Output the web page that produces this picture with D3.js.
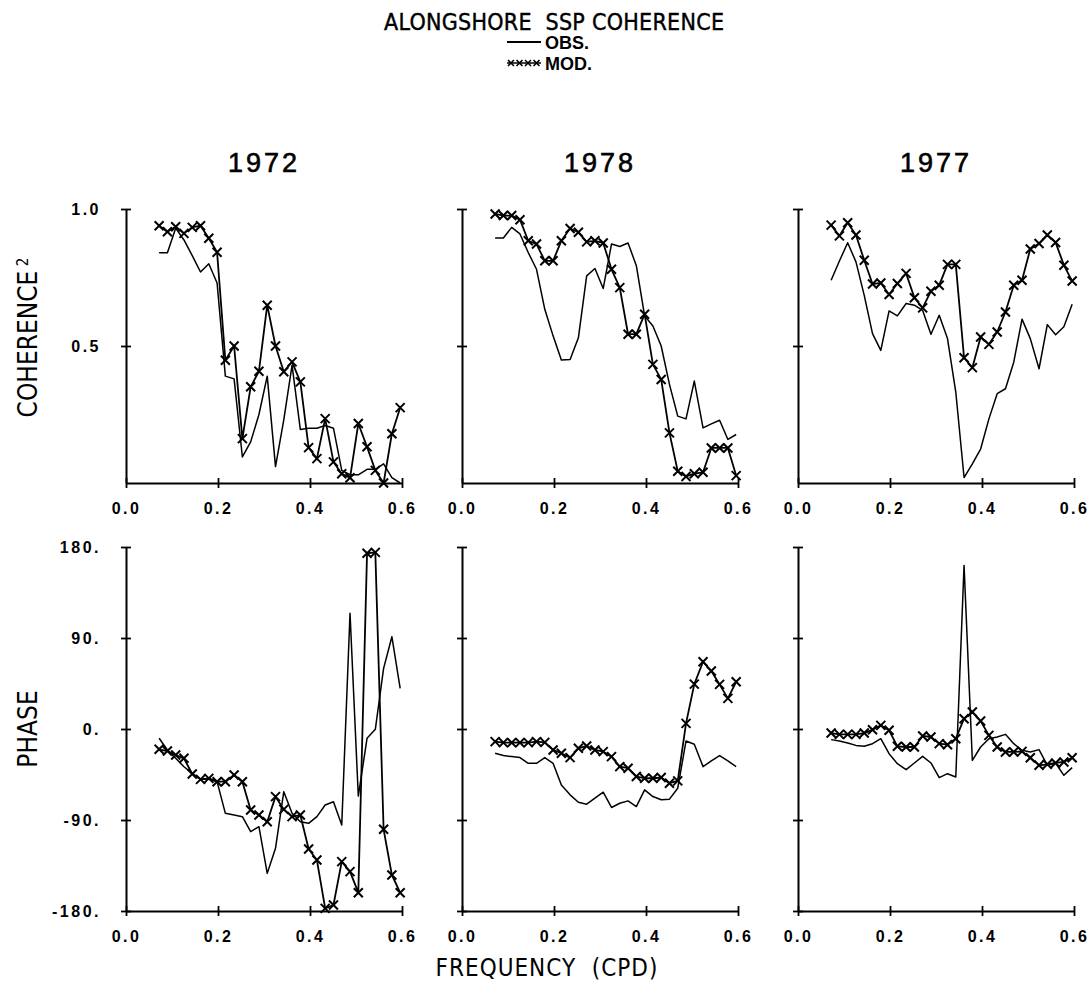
<!DOCTYPE html>
<html>
<head>
<meta charset="utf-8">
<script src="https://cdn.jsdelivr.net/npm/d3@7"></script>
<style>
  html, body { margin: 0; padding: 0; background: #fff; }
  svg { display: block; }
  .tick text { font-family: "Liberation Sans", Arial, sans-serif; font-weight: bold; font-size: 16px; letter-spacing: 2.5px; fill: #000; }
  .narrow { font-family: "Liberation Sans Narrow", "DejaVu Sans Condensed", "Liberation Sans", sans-serif; font-stretch: condensed; fill: #000; }
</style>
</head>
<body>
<svg id="chart" width="1092" height="1004"></svg>
<script>
// Frequencies (cycles per day) of the band-averaged estimates
const freq = [0.072, 0.090, 0.108, 0.126, 0.144, 0.162, 0.180, 0.198, 0.216, 0.235,
              0.253, 0.271, 0.289, 0.307, 0.325, 0.343, 0.361, 0.379, 0.397, 0.415,
              0.433, 0.451, 0.469, 0.487, 0.505, 0.524, 0.542, 0.560, 0.578, 0.596];

const years = ["1972", "1978", "1977"];

// Squared coherence, observed and modelled
const coh1972Obs = [0.84, 0.84, 0.93, 0.887, 0.83, 0.77, 0.80, 0.73, 0.39, 0.38,
                    0.095, 0.15, 0.25, 0.39, 0.06, 0.23, 0.43, 0.195, 0.20, 0.20,
                    0.21, 0.20, 0.046, 0.03, 0.03, 0.05, 0.05, 0.07, 0.02, 0.0];
const coh1972Mod = [0.939, 0.917, 0.935, 0.911, 0.933, 0.939, 0.893, 0.842, 0.448, 0.50,
                    0.162, 0.351, 0.408, 0.649, 0.50, 0.406, 0.442, 0.369, 0.129, 0.089,
                    0.235, 0.077, 0.034, 0.019, 0.217, 0.132, 0.046, 0.0, 0.18, 0.275];
const coh1978Obs = [0.894, 0.894, 0.933, 0.909, 0.841, 0.78, 0.634, 0.537, 0.449, 0.451,
                    0.53, 0.756, 0.783, 0.71, 0.872, 0.863, 0.876, 0.793, 0.61, 0.573,
                    0.50, 0.36, 0.244, 0.234, 0.372, 0.201, 0.216, 0.229, 0.159, 0.177];
const coh1978Mod = [0.982, 0.976, 0.976, 0.961, 0.884, 0.872, 0.811, 0.811, 0.884, 0.929,
                    0.915, 0.880, 0.884, 0.876, 0.78, 0.713, 0.543, 0.543, 0.616, 0.433,
                    0.378, 0.183, 0.043, 0.024, 0.034, 0.039, 0.128, 0.128, 0.128, 0.027];
const coh1977Obs = [0.74, 0.81, 0.877, 0.807, 0.685, 0.545, 0.484, 0.628, 0.61, 0.655,
                    0.649, 0.63, 0.543, 0.612, 0.527, 0.332, 0.02, 0.07, 0.124, 0.234,
                    0.326, 0.344, 0.441, 0.598, 0.527, 0.417, 0.578, 0.541, 0.57, 0.652];
const coh1977Mod = [0.941, 0.902, 0.95, 0.905, 0.813, 0.726, 0.73, 0.688, 0.728, 0.765,
                    0.676, 0.639, 0.70, 0.722, 0.798, 0.798, 0.457, 0.421, 0.533, 0.506,
                    0.551, 0.624, 0.722, 0.74, 0.854, 0.874, 0.905, 0.878, 0.795, 0.737];

// Phase (degrees), observed and modelled
const ph1972Obs = [-9.2, -20.8, -29, -37.3, -43.9, -49.5, -49.8, -52.1, -83.4, -85.1,
                   -86.7, -101.5, -96.6, -142.8, -118, -62, -83.4, -91.7, -93.3, -86.7,
                   -75.2, -71.9, -95, 114.4, -66.3, -9.2, -0.3, 60, 91.3, 40.2];
const ph1972Mod = [-20.1, -21.8, -25.7, -29.0, -44.5, -49.8, -48.8, -52.1, -52.1, -45.5,
                   -52.1, -80.1, -85.1, -91.7, -66.9, -79.5, -86.7, -85.1, -118.7, -129.6,
                   -177.4, -174.1, -131.2, -141.1, -161.9, 173.8, 174.7, -99.2, -144.4, -161.9];
const ph1978Obs = [-24, -26.3, -27.3, -28.3, -33.9, -33.9, -28.3, -33.9, -55.3, -65.1,
                   -72.4, -74.4, -68.4, -62.5, -77.6, -73.4, -71.1, -76.7, -60.2, -66.8,
                   -70, -69.4, -58.6, -11.8, -15.1, -37.2, -31.6, -26.3, -31.6, -37.2];
const ph1978Mod = [-12.5, -13.5, -13.5, -13.5, -13.5, -12.5, -13.2, -20.7, -24, -28.3,
                   -19.1, -16.8, -20.7, -22.4, -27.3, -37.2, -38.8, -47, -48.7, -48.7,
                   -48, -53.6, -51.3, 5.6, 44.4, 66.5, 57.3, 44.1, 30.3, 46.7];
const ph1977Obs = [-10.5, -11.9, -13.8, -16.2, -17.1, -14.5, -9.6, -24.4, -34.3, -40.2,
                   -33.6, -27, -33.6, -48.1, -44.2, -47.5, 161.8, -31, -17.8, -9.6,
                   -7.9, -5.3, -14.5, -21.1, -22.7, -20.4, -35.9, -33.6, -45.8, -38.2];
const ph1977Mod = [-4, -5.3, -5.3, -5.3, -4, -0.7, 3.6, -1.3, -17.1, -17.8,
                   -17.8, -6.9, -7.9, -14.5, -15.5, -9.6, 10.2, 16.8, 7.9, -6.3,
                   -17.8, -22.7, -22.7, -22.1, -28.4, -35.9, -34.9, -33.6, -32.6, -28.4];

const freqTicks = [0, 0.2, 0.4, 0.6];
const cohTicks = [0.5, 1.0];
const cohTickLabels = ["0.5", "1.0"];
const phaseTicks = [-180, -90, 0, 90, 180];
const phaseTickLabels = ["-180.", "-90.", "0.", "90.", "180."];

const cohObs = [coh1972Obs, coh1978Obs, coh1977Obs];
const cohMod = [coh1972Mod, coh1978Mod, coh1977Mod];
const phObs = [ph1972Obs, ph1978Obs, ph1977Obs];
const phMod = [ph1972Mod, ph1978Mod, ph1977Mod];

const svg = d3.select("#chart");
const colLeft = [126, 462, 798];
const panelW = 276;
const cohTop = 209, cohBottom = 483;
const phTop = 547, phBottom = 911;

const xMark = "M-4.5,-4.5L4.5,4.5M-4.5,4.5L4.5,-4.5";

function drawSeries(g, x, y, values, withMarks) {
  const pts = freq.map((f, i) => [f, values[i]]);
  g.append("path")
    .attr("d", d3.line().x(d => x(d[0])).y(d => y(d[1]))(pts))
    .attr("fill", "none").attr("stroke", "#000")
    .attr("stroke-width", withMarks ? 1.8 : 1.5)
    .attr("stroke-linejoin", "round");
  if (withMarks) {
    g.selectAll(null).data(pts).enter().append("path")
      .attr("d", xMark)
      .attr("transform", d => `translate(${x(d[0])},${y(d[1])})`)
      .attr("stroke", "#000").attr("stroke-width", 2).attr("fill", "none");
  }
}

function styleAxis(ax, horizontal) {
  ax.select(".domain").attr("stroke-width", 2);
  ax.selectAll(".tick line").attr("stroke-width", 1.8);
  if (horizontal) ax.selectAll(".tick line").attr("y1", -5).attr("y2", 5);
  else ax.selectAll(".tick line").attr("x1", -5).attr("x2", 5);
}

colLeft.forEach((x0, c) => {
  const x = d3.scaleLinear().domain([0, 0.6]).range([x0, x0 + panelW]);
  const yC = d3.scaleLinear().domain([0, 1]).range([cohBottom, cohTop]);
  const yP = d3.scaleLinear().domain([-180, 180]).range([phBottom, phTop]);

  // Coherence panel
  const gC = svg.append("g");
  const axXC = gC.append("g").attr("transform", `translate(0,${cohBottom})`)
    .call(d3.axisBottom(x).tickValues(freqTicks).tickSize(5).tickSizeOuter(0)
      .tickPadding(15).tickFormat(d3.format(".1f")));
  styleAxis(axXC, true);
  const axYC = gC.append("g").attr("transform", `translate(${x0},0)`)
    .call(d3.axisLeft(yC).tickValues(cohTicks).tickSize(5).tickSizeOuter(0).tickPadding(20)
      .tickFormat((d, i) => c === 0 ? cohTickLabels[i] : ""));
  styleAxis(axYC, false);
  drawSeries(gC, x, yC, cohObs[c], false);
  drawSeries(gC, x, yC, cohMod[c], true);

  // Phase panel
  const gP = svg.append("g");
  const axXP = gP.append("g").attr("transform", `translate(0,${phBottom})`)
    .call(d3.axisBottom(x).tickValues(freqTicks).tickSize(5).tickSizeOuter(0)
      .tickPadding(15).tickFormat(d3.format(".1f")));
  styleAxis(axXP, true);
  const axYP = gP.append("g").attr("transform", `translate(${x0},0)`)
    .call(d3.axisLeft(yP).tickValues(phaseTicks).tickSize(5).tickSizeOuter(0).tickPadding(20)
      .tickFormat((d, i) => c === 0 ? phaseTickLabels[i] : ""));
  styleAxis(axYP, false);
  drawSeries(gP, x, yP, phObs[c], false);
  drawSeries(gP, x, yP, phMod[c], true);

  // Year heading
  svg.append("text").attr("x", x0 + panelW / 2).attr("y", 172)
    .attr("text-anchor", "middle")
    .style("font-family", "'Liberation Sans', Arial, sans-serif")
    .style("font-size", "27px").style("letter-spacing", "3px")
    .attr("stroke", "#000").attr("stroke-width", 0.6)
    .text(years[c]);
});

// Title and legend
svg.append("text").attr("class", "narrow").attr("x", 384).attr("y", 30)
  .attr("textLength", 340).attr("lengthAdjust", "spacing")
  .style("font-size", "23px").style("white-space", "pre")
  .attr("stroke", "#000").attr("stroke-width", 0.4)
  .text("ALONGSHORE  SSP COHERENCE");

svg.append("line").attr("x1", 507).attr("x2", 541).attr("y1", 42).attr("y2", 42)
  .attr("stroke", "#000").attr("stroke-width", 2);
svg.append("text").attr("x", 545).attr("y", 49)
  .style("font-family", "'Liberation Sans', Arial, sans-serif")
  .style("font-size", "18px").style("font-weight", "bold").text("OBS.");
svg.append("line").attr("x1", 507).attr("x2", 541).attr("y1", 63).attr("y2", 63)
  .attr("stroke", "#000").attr("stroke-width", 1.5);
svg.selectAll(null).data([511, 519.5, 528, 536.5]).enter().append("path")
  .attr("d", "M-3,-3L3,3M-3,3L3,-3")
  .attr("transform", d => `translate(${d},63)`)
  .attr("stroke", "#000").attr("stroke-width", 1.6).attr("fill", "none");
svg.append("text").attr("x", 545).attr("y", 70)
  .style("font-family", "'Liberation Sans', Arial, sans-serif")
  .style("font-size", "18px").style("font-weight", "bold").text("MOD.");

// Axis titles
svg.append("text").attr("class", "narrow")
  .attr("transform", "translate(37,344) rotate(-90)")
  .attr("text-anchor", "middle").style("font-size", "26px").text("COHERENCE");
svg.append("text").attr("class", "narrow")
  .attr("transform", "translate(28,262) rotate(-90)")
  .attr("text-anchor", "middle").style("font-size", "15px").text("2");
svg.append("text").attr("class", "narrow")
  .attr("transform", "translate(37,729) rotate(-90)")
  .attr("text-anchor", "middle").style("font-size", "26px").text("PHASE");
svg.append("text").attr("class", "narrow")
  .attr("x", 547).attr("y", 976).attr("text-anchor", "middle")
  .style("font-size", "24px").style("letter-spacing", "1px").style("white-space", "pre")
  .text("FREQUENCY  (CPD)");
</script>
</body>
</html>
